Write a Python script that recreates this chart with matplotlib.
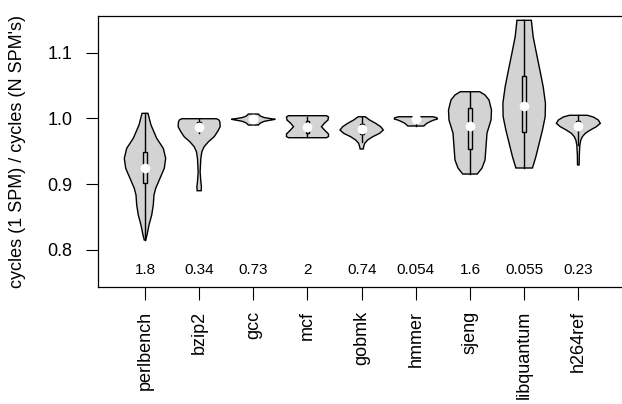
import matplotlib
matplotlib.use("Agg")
import matplotlib.pyplot as plt
from matplotlib.patches import Polygon, Rectangle
import numpy as np

plt.rcParams['font.family'] = ['Liberation Sans', 'DejaVu Sans']

benchmarks = ["perlbench", "bzip2", "gcc", "mcf", "gobmk", "hmmer", "sjeng", "libquantum", "h264ref"]
annotations = ["1.8", "0.34", "0.73", "2", "0.74", "0.054", "1.6", "0.055", "0.23"]

# violin outlines: levels (ratio) and half-widths (fraction of category spacing)
perlbench_lv = [1.0076, 0.9898, 0.9696, 0.9543, 0.9391, 0.9239, 0.9087, 0.8935, 0.8833, 0.8680, 0.8528, 0.8376, 0.8224, 0.8148]
perlbench_hw = [0.055, 0.111, 0.216, 0.338, 0.382, 0.356, 0.277, 0.198, 0.166, 0.153, 0.124, 0.074, 0.037, 0.013]
bzip2_lv = [0.9994, 0.9975, 0.9948, 0.9872, 0.9796, 0.9720, 0.9644, 0.9568, 0.9492, 0.9391, 0.9187, 0.9035, 0.8959, 0.8898]
bzip2_hw = [0.320, 0.365, 0.382, 0.388, 0.338, 0.277, 0.172, 0.092, 0.050, 0.031, 0.018, 0.031, 0.042, 0.037]
gcc_lv = [1.0065, 1.0035, 1.0012, 0.9994, 0.9985, 0.9974, 0.9954, 0.9928, 0.9898]
gcc_hw = [0.092, 0.130, 0.200, 0.330, 0.406, 0.330, 0.200, 0.130, 0.092]
mcf_lv = [1.0040, 1.0020, 0.9974, 0.9928, 0.9872, 0.9822, 0.9761, 0.9723, 0.9705]
mcf_hw = [0.351, 0.388, 0.378, 0.314, 0.258, 0.314, 0.388, 0.388, 0.351]
gobmk_lv = [1.0024, 0.9974, 0.9924, 0.9872, 0.9822, 0.9772, 0.9720, 0.9670, 0.9619, 0.9568, 0.9533]
gobmk_hw = [0.065, 0.148, 0.258, 0.351, 0.400, 0.332, 0.203, 0.111, 0.055, 0.037, 0.028]
hmmer_lv = [1.0024, 1.0009, 0.9989, 0.9974, 0.9948, 0.9924, 0.9898, 0.9883]
hmmer_hw = [0.314, 0.388, 0.400, 0.332, 0.258, 0.203, 0.166, 0.148]
sjeng_lv = [1.0405, 1.0355, 1.0279, 1.0126, 0.9974, 0.9776, 0.9563, 0.9365, 0.9244, 0.9152]
sjeng_hw = [0.180, 0.277, 0.351, 0.397, 0.388, 0.314, 0.295, 0.277, 0.222, 0.135]
libquantum_lv = [1.1492, 1.1242, 1.0989, 1.0735, 1.0481, 1.0228, 1.0024, 0.9822, 0.9619, 0.9416, 0.9244]
libquantum_hw = [0.133, 0.166, 0.227, 0.290, 0.351, 0.393, 0.388, 0.338, 0.277, 0.216, 0.153]
h264ref_lv = [1.0046, 1.0020, 0.9974, 0.9924, 0.9872, 0.9822, 0.9772, 0.9720, 0.9670, 0.9594, 0.9441, 0.9289]
h264ref_hw = [0.166, 0.277, 0.369, 0.406, 0.332, 0.222, 0.129, 0.074, 0.046, 0.028, 0.018, 0.015]

medians = [0.925, 0.987, 0.9985, 0.987, 0.983, 0.9995, 0.989, 1.0187, 0.988]
q1 = [0.902, 0.982, 0.998, 0.978, 0.976, 0.999, 0.953, 0.979, 0.984]
q3 = [0.948, 0.995, 0.999, 0.996, 0.992, 1.000, 1.016, 1.065, 0.996]
whisk_lo = [0.8148, 0.977, 0.998, 0.972, 0.964, 0.988, 0.9152, 0.924, 0.960]
whisk_hi = [1.0076, 0.9994, 1.001, 1.0024, 1.0024, 1.000, 1.0405, 1.1492, 1.005]

levels = [perlbench_lv, bzip2_lv, gcc_lv, mcf_lv, gobmk_lv, hmmer_lv, sjeng_lv, libquantum_lv, h264ref_lv]
halfw = [perlbench_hw, bzip2_hw, gcc_hw, mcf_hw, gobmk_hw, hmmer_hw, sjeng_hw, libquantum_hw, h264ref_hw]

W, H = 622, 404
fig = plt.figure(figsize=(W / 100, H / 100), dpi=100)
left_px, right_px, top_px, bot_px = 98.3, 632.5, 15.7, 287.3
ax = fig.add_axes([left_px / W, 1 - bot_px / H, (right_px - left_px) / W, (bot_px - top_px) / H])
ax.set_xlim(0.138, 10.0)
ax.set_ylim(0.7428, 1.1562)

for i, (lv, hw) in enumerate(zip(levels, halfw)):
    pos = i + 1
    lv = np.asarray(lv)
    hw = np.asarray(hw)
    xs = np.concatenate([pos - hw, (pos + hw)[::-1]])
    ys = np.concatenate([lv, lv[::-1]])
    ax.add_patch(Polygon(np.column_stack([xs, ys]), closed=True, facecolor='#D3D3D3',
                         edgecolor='black', linewidth=1.0, zorder=2))
    ax.plot([pos, pos], [whisk_lo[i], whisk_hi[i]], color='black', lw=1.0, zorder=3)
    bw = 0.035
    ax.add_patch(Rectangle((pos - bw, q1[i]), 2 * bw, q3[i] - q1[i], facecolor='#D3D3D3',
                           edgecolor='black', linewidth=1.0, zorder=4))
    ax.plot([pos], [medians[i]], marker='o', color='white', markersize=7,
            markeredgewidth=0, zorder=5)
    ax.text(pos, 0.769, annotations[i], ha='center', va='center', fontsize=11)

ax.set_xticks(range(1, len(benchmarks) + 1))
ax.set_xticklabels(benchmarks, rotation=90, fontsize=13)
ax.set_yticks([0.8, 0.9, 1.0, 1.1])
ax.set_yticklabels(["0.8", "0.9", "1.0", "1.1"], fontsize=13)
ax.tick_params(axis='y', direction='out', length=8.4, width=0.8, pad=10)
ax.tick_params(axis='x', direction='out', length=9, width=0.8, pad=8)
for s in ax.spines.values():
    s.set_linewidth(0.9)
ax.spines['right'].set_visible(False)

fig.text(17.5 / W, 1 - 151.5 / H, "cycles (1 SPM) / cycles (N SPM's)", rotation=90,
         ha='center', va='center', fontsize=13)

fig.savefig("out.png", dpi=100)
